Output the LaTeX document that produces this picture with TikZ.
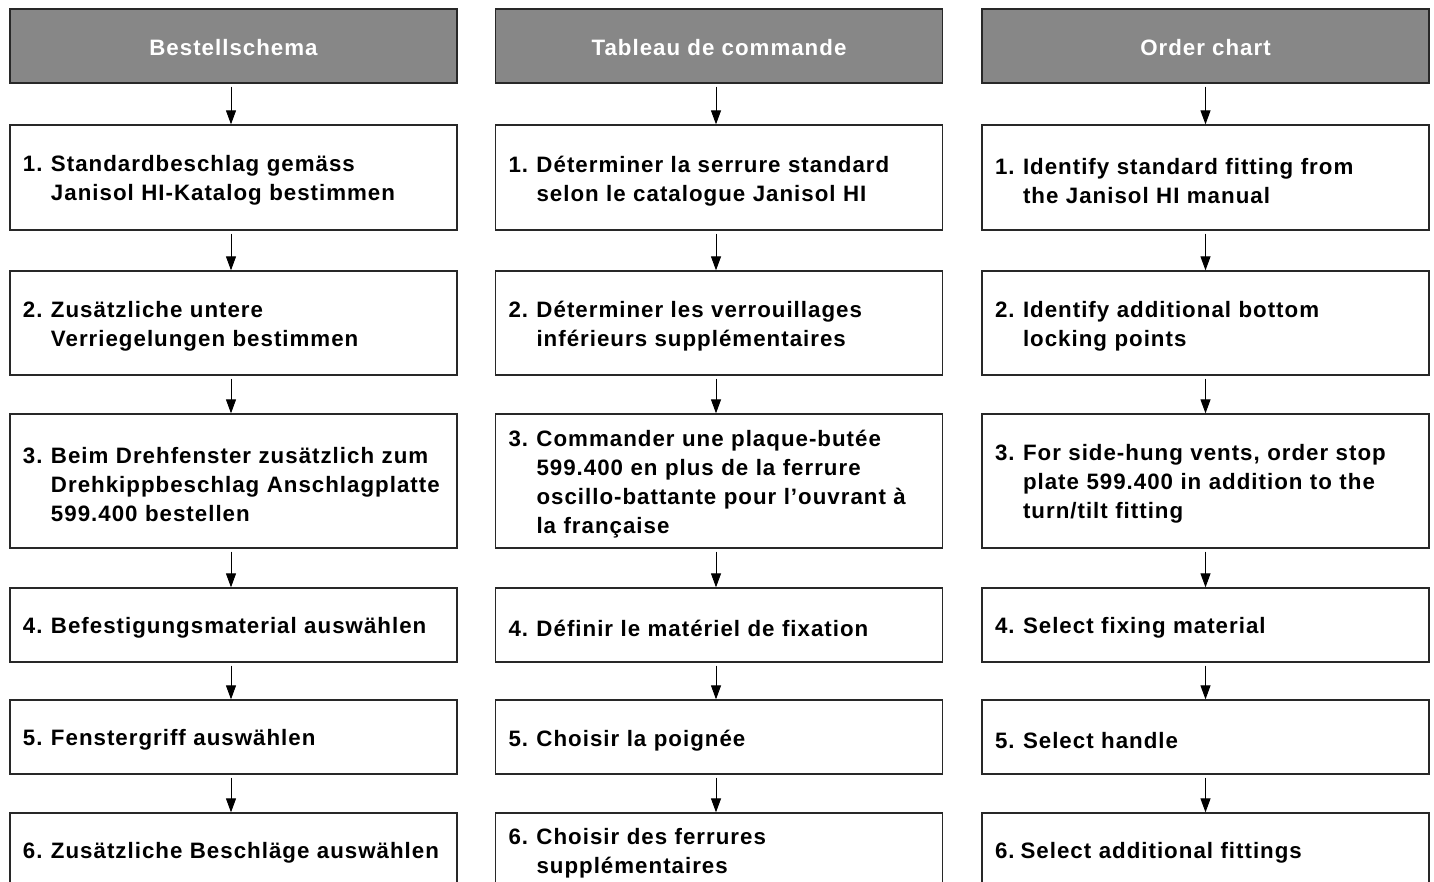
\documentclass[tikz,border=0pt]{standalone}
\usepackage{fontspec}
\setmainfont{Liberation Sans}[LetterSpace=4.5]
\usetikzlibrary{arrows.meta,calc}
\definecolor{hgray}{RGB}{135,135,135}
\definecolor{bord}{RGB}{40,40,40}
\newcommand\lowr[2]{\raisebox{0pt}[\dimexpr\height+#1\relax][\depth]{#2}}
\newcommand\nr[2]{\lowr{6.5pt}{\makebox[28pt][l]{#1}\parbox[t]{393pt}{\raggedright #2}}}
\tikzset{
  txt/.style={font=\fontsize{22.3}{29}\selectfont\bfseries},
  hdr/.style={txt, draw=bord, line width=1.3pt, fill=hgray, text=white,
    minimum width=447pt, minimum height=74pt, inner sep=0pt},
  stepbox/.style={txt, draw=bord, line width=1.3pt, fill=white,
    minimum width=447pt, text width=421pt, inner xsep=13pt, inner ysep=0pt,
    align=left},
  conn/.style={line width=1pt, black, -{Triangle[width=10pt,length=14pt]}, shorten <=3pt}
}
\begin{document}
\begin{tikzpicture}[x=1pt,y=-1pt]
\useasboundingbox (0,0) rectangle (1434,881);
\clip (0,0) rectangle (1434,881);
\fill[white] (0,0) rectangle (1434,881);
% column 1
\node[hdr] (h1) at (233.5,46) {\lowr{3pt}{Bestellschema}};
\node[stepbox, minimum height=105pt] (a1) at (233.5,177.5) {\nr{1.}{Standardbeschlag gemäss\\Janisol HI-Katalog bestimmen}};
\node[stepbox, minimum height=104pt] (a2) at (233.5,323) {\nr{2.}{Zusätzliche untere\\Verriegelungen bestimmen}};
\node[stepbox, minimum height=134pt] (a3) at (233.5,481) {\nr{3.}{Beim Drehfenster zusätzlich zum\\Drehkippbeschlag Anschlagplatte\\599.400 bestellen}};
\node[stepbox, minimum height=74pt] (a4) at (233.5,625) {\nr{4.}{Befestigungsmaterial auswählen}};
\node[stepbox, minimum height=74pt] (a5) at (233.5,737) {\nr{5.}{Fenstergriff auswählen}};
\node[stepbox, minimum height=74pt] (a6) at (233.5,850) {\nr{6.}{Zusätzliche Beschläge auswählen}};
% column 2
\node[hdr] (h2) at (719,46) {\lowr{3pt}{Tableau de commande}};
\node[stepbox, minimum height=105pt] (b1) at (719,177.5) {\nr{1.}{Déterminer la serrure standard\\selon le catalogue Janisol HI}};
\node[stepbox, minimum height=104pt] (b2) at (719,323) {\nr{2.}{Déterminer les verrouillages\\inférieurs supplémentaires}};
\node[stepbox, minimum height=134pt] (b3) at (719,481) {\nr{3.}{Commander une plaque-butée\\599.400 en plus de la ferrure\\oscillo-battante pour l’ouvrant à\\la française}};
\node[stepbox, minimum height=74pt] (b4) at (719,625) {\nr{4.}{Définir le matériel de fixation}};
\node[stepbox, minimum height=74pt] (b5) at (719,737) {\nr{5.}{Choisir la poignée}};
\node[stepbox, minimum height=74pt] (b6) at (719,850) {\nr{6.}{Choisir des ferrures\\supplémentaires}};
% column 3
\node[hdr] (h3) at (1205.5,46) {\lowr{3pt}{Order chart}};
\node[stepbox, minimum height=105pt] (c1) at (1205.5,177.5) {\nr{1.}{Identify standard fitting from\\the Janisol HI manual}};
\node[stepbox, minimum height=104pt] (c2) at (1205.5,323) {\nr{2.}{Identify additional bottom\\locking points}};
\node[stepbox, minimum height=134pt] (c3) at (1205.5,481) {\nr{3.}{For side-hung vents, order stop\\plate 599.400 in addition to the\\turn/tilt fitting}};
\node[stepbox, minimum height=74pt] (c4) at (1205.5,625) {\nr{4.}{Select fixing material}};
\node[stepbox, minimum height=74pt] (c5) at (1205.5,737) {\nr{5.}{Select handle}};
\node[stepbox, minimum height=74pt] (c6) at (1205.5,850) {\lowr{6.5pt}{6.\hspace{6pt}Select additional fittings}};
% connectors
\draw[conn] ([xshift=-2.5pt]h1.south) -- ([xshift=-2.5pt]a1.north);
\draw[conn] ([xshift=-2.5pt]a1.south) -- ([xshift=-2.5pt]a2.north);
\draw[conn] ([xshift=-2.5pt]a2.south) -- ([xshift=-2.5pt]a3.north);
\draw[conn] ([xshift=-2.5pt]a3.south) -- ([xshift=-2.5pt]a4.north);
\draw[conn] ([xshift=-2.5pt]a4.south) -- ([xshift=-2.5pt]a5.north);
\draw[conn] ([xshift=-2.5pt]a5.south) -- ([xshift=-2.5pt]a6.north);
\draw[conn] ([xshift=-3pt]h2.south) -- ([xshift=-3pt]b1.north);
\draw[conn] ([xshift=-3pt]b1.south) -- ([xshift=-3pt]b2.north);
\draw[conn] ([xshift=-3pt]b2.south) -- ([xshift=-3pt]b3.north);
\draw[conn] ([xshift=-3pt]b3.south) -- ([xshift=-3pt]b4.north);
\draw[conn] ([xshift=-3pt]b4.south) -- ([xshift=-3pt]b5.north);
\draw[conn] ([xshift=-3pt]b5.south) -- ([xshift=-3pt]b6.north);
\draw[conn] (h3.south) -- (c1.north);
\draw[conn] (c1.south) -- (c2.north);
\draw[conn] (c2.south) -- (c3.north);
\draw[conn] (c3.south) -- (c4.north);
\draw[conn] (c4.south) -- (c5.north);
\draw[conn] (c5.south) -- (c6.north);
\end{tikzpicture}
\end{document}
